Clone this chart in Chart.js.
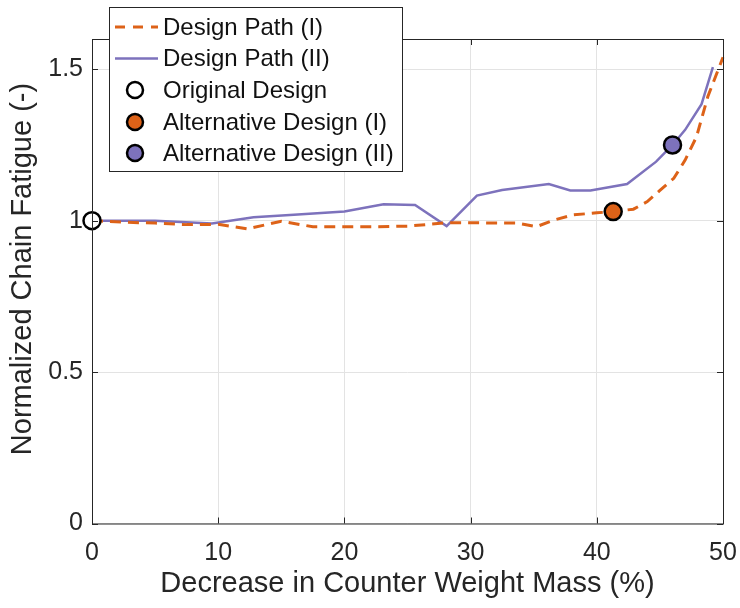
<!DOCTYPE html>
<html>
<head>
<meta charset="utf-8">
<script src="https://cdn.jsdelivr.net/npm/chart.js@4/dist/chart.umd.min.js"></script>
<style>
  html, body { margin: 0; padding: 0; background: #fff; }
  #wrap { width: 740px; height: 608px; }
</style>
</head>
<body>
<div id="wrap"><canvas id="c" width="740" height="608"></canvas></div>
<script>
// Design path (I): decrease in counter weight mass (%) vs normalized chain fatigue
const pathIMass = [0, 2.5, 5, 7.5, 10, 12.3, 15, 17.5, 20, 22.5, 25, 28.1, 30, 33.7, 35.2, 36.6, 38.1, 40, 41.3, 42.9, 44, 45, 46.1, 47, 47.9, 48.8, 50];
const pathIFatigue = [1.0, 0.995, 0.992, 0.987, 0.988, 0.973, 0.998, 0.980, 0.980, 0.980, 0.982, 0.993, 0.993, 0.992, 0.980, 1.002, 1.019, 1.026, 1.030, 1.038, 1.063, 1.100, 1.140, 1.200, 1.277, 1.410, 1.540];

// Design path (II)
const pathIIMass = [0, 5, 9.5, 12.8, 16, 20, 23.1, 25.6, 28.1, 30.5, 32.5, 36.2, 37.9, 39.5, 42.4, 44.7, 46.0, 47.0, 48.3, 49.2];
const pathIIFatigue = [1.0, 1.0, 0.991, 1.011, 1.020, 1.030, 1.054, 1.052, 0.982, 1.083, 1.101, 1.121, 1.100, 1.100, 1.121, 1.195, 1.250, 1.300, 1.385, 1.507];

// Highlighted designs
const originalDesign = [0, 1.0];
const altDesignI = [41.3, 1.03];
const altDesignII = [46.0, 1.25];

const xTicks = [0, 10, 20, 30, 40, 50];
const yTicks = [0, 0.5, 1, 1.5];

const legendLabels = ['Design Path (I)', 'Design Path (II)', 'Original Design', 'Alternative Design (I)', 'Alternative Design (II)'];
const yTitle = 'Normalized Chain Fatigue (-)';

const ORANGE = '#dd6218';
const PURPLE = '#7d72bc';
const AXIS = '#262626';
const GRID = '#e3e3e3';
const FONT = '"Liberation Sans", Arial, sans-serif';
const DASH = [11, 7];

const toPts = (xs, ys) => xs.map((x, i) => ({ x: x, y: ys[i] }));

// Box, inward ticks, y title and the legend, drawn over the plot
const frame = {
  id: 'frame',
  afterDatasetsDraw(chart) {
    const { ctx, chartArea: a, scales } = chart;
    ctx.save();
    ctx.strokeStyle = AXIS;
    ctx.lineWidth = 1;
    ctx.strokeRect(a.left + 0.5, a.top + 0.5, a.right - a.left, a.bottom - a.top);
    const tl = 6;
    ctx.beginPath();
    xTicks.forEach(v => {
      const px = Math.round(scales.x.getPixelForValue(v)) + 0.5;
      ctx.moveTo(px, a.bottom); ctx.lineTo(px, a.bottom - tl);
      ctx.moveTo(px, a.top); ctx.lineTo(px, a.top + tl);
    });
    yTicks.forEach(v => {
      const py = Math.round(scales.y.getPixelForValue(v)) + 0.5;
      ctx.moveTo(a.left, py); ctx.lineTo(a.left + tl, py);
      ctx.moveTo(a.right, py); ctx.lineTo(a.right - tl, py);
    });
    ctx.stroke();
    ctx.restore();
  },
  afterDraw(chart) {
    const { ctx } = chart;
    ctx.save();
    // y axis title
    ctx.translate(23, 269);
    ctx.rotate(-Math.PI / 2);
    ctx.font = '29px ' + FONT;
    ctx.fillStyle = AXIS;
    ctx.textAlign = 'center';
    ctx.textBaseline = 'middle';
    ctx.fillText(yTitle, 0, 0);
    ctx.restore();

    const bx = 109, by = 7, bw = 293, bh = 164;
    ctx.save();
    ctx.fillStyle = '#fff';
    ctx.fillRect(bx, by, bw, bh);
    ctx.strokeStyle = AXIS;
    ctx.lineWidth = 1;
    ctx.strokeRect(bx + 0.5, by + 0.5, bw, bh);
    const rowY = [27, 58.5, 90, 122, 153];
    const textX = 163;
    ctx.font = '24px ' + FONT;
    ctx.textBaseline = 'middle';
    ctx.textAlign = 'left';
    // line samples
    ctx.lineWidth = 3;
    ctx.strokeStyle = ORANGE;
    ctx.setLineDash([10, 8]);
    ctx.beginPath(); ctx.moveTo(115, rowY[0]); ctx.lineTo(158, rowY[0]); ctx.stroke();
    ctx.setLineDash([]);
    ctx.lineWidth = 2.5;
    ctx.strokeStyle = PURPLE;
    ctx.beginPath(); ctx.moveTo(115, rowY[1]); ctx.lineTo(158, rowY[1]); ctx.stroke();
    // marker samples
    const fills = ['#ffffff', ORANGE, PURPLE];
    for (let i = 0; i < 3; i++) {
      ctx.beginPath();
      ctx.arc(135, rowY[i + 2], 8, 0, Math.PI * 2);
      ctx.fillStyle = fills[i];
      ctx.fill();
      ctx.lineWidth = 2.5;
      ctx.strokeStyle = '#000';
      ctx.stroke();
    }
    ctx.fillStyle = '#111';
    legendLabels.forEach((t, i) => ctx.fillText(t, textX, rowY[i] + 1));
    ctx.restore();
  }
};

const markerDs = (pt, fill, label) => ({
  type: 'scatter',
  label: label,
  data: [{ x: pt[0], y: pt[1] }],
  backgroundColor: fill,
  borderColor: '#000',
  borderWidth: 2.5,
  pointRadius: 8.5,
  pointHoverRadius: 8.5,
  clip: false
});

new Chart(document.getElementById('c'), {
  type: 'line',
  data: {
    datasets: [
      markerDs(originalDesign, '#ffffff', legendLabels[2]),
      markerDs(altDesignI, ORANGE, legendLabels[3]),
      markerDs(altDesignII, PURPLE, legendLabels[4]),
      {
        label: legendLabels[0],
        data: toPts(pathIMass, pathIFatigue),
        borderColor: ORANGE,
        borderWidth: 3,
        borderDash: DASH,
        pointRadius: 0,
        tension: 0,
        fill: false,
        clip: false
      },
      {
        label: legendLabels[1],
        data: toPts(pathIIMass, pathIIFatigue),
        borderColor: PURPLE,
        borderWidth: 2.5,
        pointRadius: 0,
        tension: 0,
        fill: false,
        clip: false
      }
    ]
  },
  options: {
    responsive: false,
    animation: false,
    events: [],
    layout: { padding: { top: 39, right: 17, left: 0, bottom: 0 } },
    plugins: { legend: { display: false }, tooltip: { enabled: false } },
    scales: {
      x: {
        type: 'linear',
        min: 0, max: 50,
        afterBuildTicks: s => { s.ticks = xTicks.map(v => ({ value: v })); },
        afterFit: s => { s.height = 84.5; s.paddingLeft = 0; s.paddingRight = 0; },
        grid: { color: GRID, drawTicks: false },
        border: { display: false },
        ticks: { color: AXIS, font: { family: FONT, size: 25 }, padding: 15, callback: v => String(v) },
        title: { display: true, text: 'Decrease in Counter Weight Mass (%)', color: AXIS, font: { family: FONT, size: 29 }, padding: { top: 0, bottom: 7 } }
      },
      y: {
        type: 'linear',
        min: 0, max: 1.6,
        afterBuildTicks: s => { s.ticks = yTicks.map(v => ({ value: v })); },
        afterFit: s => { s.width = 92; },
        grid: { color: GRID, drawTicks: false },
        border: { display: false },
        ticks: { color: AXIS, font: { family: FONT, size: 25 }, padding: 9, callback: v => String(v) },
        title: { display: false }
      }
    }
  },
  plugins: [frame]
});
</script>
</body>
</html>
